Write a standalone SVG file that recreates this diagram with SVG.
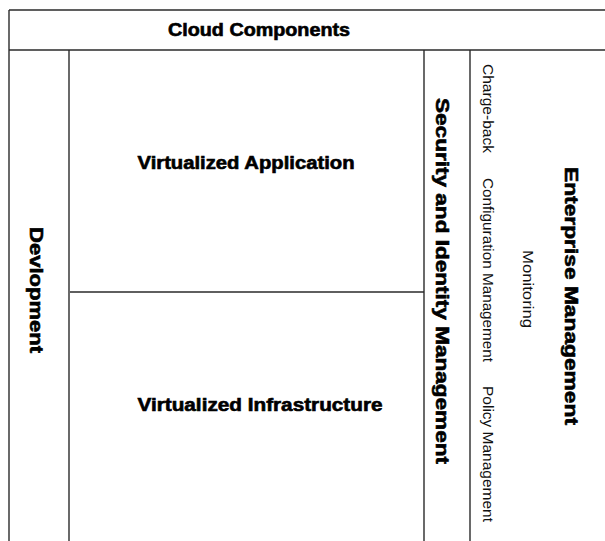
<svg xmlns="http://www.w3.org/2000/svg" width="605" height="541" viewBox="0 0 605 541">
<style>
.ln{stroke:#2a2a2a;stroke-width:1.4;fill:none}
.b{font-family:"Liberation Sans",Arial,sans-serif;font-weight:bold;font-size:17.5px;fill:#000;stroke:#000;stroke-width:0.6}
.r{font-family:"Liberation Sans",Arial,sans-serif;font-size:14px;fill:#111}
text{text-anchor:middle;dominant-baseline:central}
</style>
<rect width="605" height="541" fill="#fff"/>
<g id="connectors">
<line class="ln" x1="9" y1="10" x2="605" y2="10"/>
<line class="ln" x1="9" y1="10" x2="9" y2="541"/>
<line class="ln" x1="9" y1="50" x2="605" y2="50"/>
<line class="ln" x1="69" y1="50" x2="69" y2="541"/>
<line class="ln" x1="424" y1="50" x2="424" y2="541"/>
<line class="ln" x1="470" y1="50" x2="470" y2="541"/>
<line class="ln" x1="70" y1="292" x2="424" y2="292"/>
</g>
<g id="cloud-components">
<text class="b" x="259" y="30" textLength="182" lengthAdjust="spacingAndGlyphs">Cloud Components</text>
</g>
<g id="devlopment">
<text class="b" transform="translate(36,290) rotate(90)" x="0" y="0" textLength="126" lengthAdjust="spacingAndGlyphs">Devlopment</text>
</g>
<g id="virtualized-application">
<text class="b" x="246" y="163" textLength="217" lengthAdjust="spacingAndGlyphs">Virtualized Application</text>
</g>
<g id="virtualized-infrastructure">
<text class="b" x="260" y="405" textLength="245" lengthAdjust="spacingAndGlyphs">Virtualized Infrastructure</text>
</g>
<g id="security-identity">
<text class="b" transform="translate(442,281) rotate(90)" x="0" y="0" textLength="366" lengthAdjust="spacingAndGlyphs">Security and Identity Management</text>
</g>
<g id="enterprise-management">
<text class="b" transform="translate(571,296) rotate(90)" x="0" y="0" textLength="258" lengthAdjust="spacingAndGlyphs">Enterprise Management</text>
<text class="r" transform="translate(488,108.5) rotate(90)" x="0" y="0" textLength="89" lengthAdjust="spacingAndGlyphs">Charge-back</text>
<text class="r" transform="translate(488,270) rotate(90)" x="0" y="0" textLength="184" lengthAdjust="spacingAndGlyphs">Configuration Management</text>
<text class="r" transform="translate(488,454) rotate(90)" x="0" y="0" textLength="136" lengthAdjust="spacingAndGlyphs">Policy Management</text>
<text class="r" transform="translate(528,289) rotate(90)" x="0" y="0" textLength="78" lengthAdjust="spacingAndGlyphs">Monitoring</text>
</g>
</svg>
